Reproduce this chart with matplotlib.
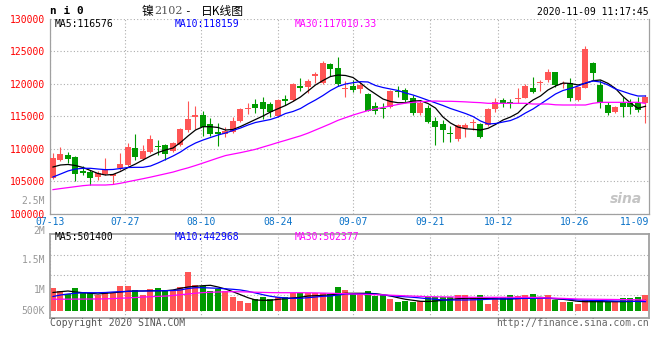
import numpy as np
import matplotlib
matplotlib.use('Agg')
import matplotlib.pyplot as plt
from matplotlib.transforms import ScaledTranslation

# daily candles, 07-13 .. 11-09
opens = [105490, 108308, 109077, 108723, 106615, 106460, 105740, 106150, 105850, 107030,
         107540, 110200, 108420, 109590, 110510, 110620, 109690, 110620, 112920, 114880,
         115230, 113850, 112660, 112310, 112570, 114350, 116200, 116920, 117280, 116880,
         115080, 117690, 117540, 119740, 119590, 121230, 120100, 123080, 122510, 119180,
         119740, 119230, 118460, 116620, 116350, 116510, 118970, 119080, 117800, 115490,
         116260, 114310, 113850, 112510, 111540, 113280, 113950, 113800, 113690, 116100,
         117540, 117280, 117640, 117900, 119430, 120100, 120620, 121800, 119950, 120100,
         117540, 119430, 123280, 119850, 116770, 115740, 117030, 117120, 117030, 117030]
highs = [109340, 110262, 109490, 108923, 107430, 106770, 106660, 108660, 106200, 109430,
         110970, 112310, 110570, 112110, 111380, 110770, 111120, 113230, 117430, 116660,
         115900, 114720, 113950, 113340, 114970, 116260, 117030, 117650, 117950, 117280,
         117650, 118310, 120200, 120970, 120720, 121800, 123590, 123280, 124200, 120460,
         120620, 120260, 118570, 117280, 117030, 119080, 119690, 119340, 118310, 117540,
         116770, 114880, 114460, 113540, 113850, 114050, 114570, 113950, 116260, 117800,
         117800, 117650, 119340, 119950, 121130, 120620, 122310, 121900, 120510, 120870,
         119590, 125850, 123430, 120620, 117280, 116620, 117950, 117690, 118050, 118310]
lows = [105340, 108200, 107800, 105120, 106000, 104460, 105230, 106000, 104620, 106770,
        107380, 108310, 108310, 109430, 109080, 108310, 109590, 110460, 112660, 113030,
        112000, 112000, 110460, 111890, 112420, 114200, 115380, 115580, 114620, 114880,
        114970, 116770, 117430, 118970, 118660, 120100, 120000, 121230, 119740, 117950,
        118820, 118660, 115850, 115380, 114820, 116260, 118050, 117280, 115230, 115230,
        113950, 110620, 111120, 111120, 111280, 111800, 112870, 111640, 113540, 115740,
        116510, 116260, 117130, 117800, 118560, 118970, 120360, 119590, 119330, 117430,
        117430, 119340, 120620, 116260, 115230, 115590, 114880, 115380, 115740, 114050]
closes = [108570, 109231, 108462, 106154, 106260, 105590, 106260, 106920, 106100, 107690,
          110260, 108820, 109740, 111540, 110350, 109180, 110870, 113080, 114620, 115230,
          113430, 112260, 112260, 112816, 114310, 116150, 116350, 116350, 116150, 115650,
          117540, 117430, 119950, 119430, 120510, 121490, 123280, 122260, 120050, 119340,
          119080, 119850, 115890, 115890, 116200, 118920, 118720, 117540, 115490, 117030,
          114200, 113430, 112920, 112310, 113690, 113690, 114200, 111800, 116100, 117280,
          117030, 117130, 117900, 119690, 118760, 120360, 121800, 119850, 120200, 117800,
          119490, 125380, 121740, 117030, 115590, 116510, 116410, 116510, 116000, 118050]

ma5 = [107230, 107540, 107620, 107460, 107150, 106690, 106230, 106000, 106080, 106540,
       107150, 107690, 108310, 108920, 109460, 109850, 110150, 111000, 112000, 112920,
       113430, 113430, 113310, 112920, 113000, 113460, 114000, 114540, 115080, 115690,
       116200, 116690, 117310, 118000, 118920, 119850, 120540, 121150, 121380, 121310,
       121000, 120150, 119230, 118460, 117690, 117310, 117120, 117120, 117380, 117430,
       117000, 116300, 114920, 114000, 113380, 113120, 113030, 112920, 113180, 113770,
       114460, 114920, 115540, 116690, 117540, 118150, 119080, 119690, 120150, 120080,
       119850, 120100, 120510, 120620, 120100, 119310, 118080, 117080, 116260, 116576]
ma10 = [105690, 106150, 106620, 106920, 107030, 107030, 106920, 106820, 106850, 107000,
        107150, 107180, 107180, 107380, 107850, 108380, 108920, 109540, 110310, 110920,
        111380, 111770, 112150, 112460, 112850, 113230, 113690, 114080, 114310, 114540,
        114920, 115460, 115770, 116230, 116920, 117540, 118230, 119000, 119620, 120000,
        120200, 120360, 120310, 119770, 119460, 119230, 119000, 118620, 118310, 117920,
        117500, 117100, 116690, 116230, 115850, 115460, 115000, 114310, 113850, 113920,
        114150, 114380, 114850, 115540, 116150, 116920, 117690, 118460, 119000, 119310,
        119690, 120150, 120460, 120310, 119850, 119230, 118850, 118460, 118150, 118159]
ma30 = [103750, 103910, 104060, 104210, 104360, 104460, 104460, 104460, 104540, 104730,
        104970, 105200, 105430, 105670, 105930, 106190, 106450, 106790, 107100, 107460,
        107840, 108230, 108620, 108990, 109220, 109440, 109690, 109950, 110300, 110640,
        111000, 111330, 111680, 112020, 112440, 112920, 113400, 113890, 114410, 114820,
        115220, 115570, 115910, 116180, 116400, 116620, 116850, 117060, 117170, 117280,
        117330, 117380, 117340, 117340, 117300, 117250, 117180, 117130, 117030, 117030,
        117030, 117030, 117030, 117030, 116920, 116920, 116920, 116800, 116770, 116770,
        116770, 116770, 117030, 117180, 117180, 117180, 117180, 117180, 117180, 117010]

volumes = [1129000, 982000, 819000, 1129000, 900000, 851000, 770000, 933000, 851000, 1227000,
           1227000, 1015000, 770000, 1064000, 1129000, 1015000, 949000, 1178000, 1913000, 1260000,
           1211000, 982000, 1064000, 982000, 655000, 492000, 394000, 574000, 655000, 574000,
           688000, 688000, 884000, 884000, 884000, 884000, 884000, 819000, 1178000, 1015000,
           851000, 851000, 966000, 737000, 770000, 574000, 443000, 492000, 443000, 492000,
           655000, 655000, 655000, 655000, 770000, 770000, 655000, 770000, 328000, 655000,
           655000, 770000, 721000, 770000, 819000, 655000, 770000, 525000, 443000, 443000,
           328000, 525000, 525000, 525000, 443000, 443000, 606000, 606000, 655000, 770000]
vol_ma5 = [892000, 931000, 966000, 917000, 882000, 853000, 819000, 853000, 882000, 917000,
           951000, 966000, 966000, 980000, 980000, 980000, 1015000, 1098000, 1162000, 1196000,
           1226000, 1245000, 1162000, 1064000, 931000, 784000, 637000, 525000, 510000, 510000,
           559000, 588000, 623000, 657000, 721000, 735000, 755000, 770000, 819000, 853000,
           853000, 853000, 853000, 833000, 784000, 721000, 637000, 559000, 510000, 461000,
           451000, 475000, 510000, 549000, 588000, 608000, 608000, 608000, 598000, 588000,
           574000, 574000, 598000, 623000, 637000, 657000, 623000, 574000, 559000, 510000,
           461000, 441000, 441000, 441000, 441000, 441000, 441000, 451000, 466000, 501400]
vol_ma10 = [696000, 770000, 819000, 853000, 882000, 882000, 882000, 892000, 917000, 931000,
            951000, 966000, 966000, 966000, 975000, 980000, 990000, 1015000, 1088000, 1127000,
            1127000, 1113000, 1098000, 1074000, 1049000, 1015000, 951000, 868000, 784000, 706000,
            657000, 623000, 608000, 608000, 637000, 672000, 706000, 721000, 770000, 819000,
            819000, 819000, 819000, 819000, 770000, 735000, 706000, 681000, 657000, 623000,
            588000, 559000, 525000, 525000, 525000, 525000, 534000, 544000, 559000, 574000,
            578000, 588000, 593000, 603000, 608000, 608000, 608000, 598000, 574000, 549000,
            525000, 515000, 505000, 495000, 485000, 475000, 470000, 462000, 452000, 442968]
vol_ma30 = [559000, 564000, 564000, 569000, 569000, 574000, 574000, 583000, 593000, 613000,
            627000, 647000, 667000, 686000, 701000, 716000, 745000, 784000, 819000, 858000,
            887000, 902000, 917000, 926000, 931000, 926000, 917000, 907000, 897000, 887000,
            882000, 882000, 882000, 882000, 877000, 873000, 863000, 853000, 843000, 833000,
            819000, 809000, 794000, 784000, 775000, 760000, 745000, 730000, 716000, 701000,
            686000, 681000, 676000, 672000, 667000, 662000, 657000, 657000, 657000, 657000,
            657000, 657000, 657000, 657000, 652000, 642000, 627000, 613000, 603000, 588000,
            574000, 569000, 564000, 559000, 554000, 549000, 544000, 539000, 534000, 502377]

date_labels = ['07-13', '07-27', '08-10', '08-24', '09-07', '09-21', '10-12', '10-26']
date_pos = [-0.4, 9.6, 19.7, 30.0, 40.0, 50.3, 59.4, 69.6]
last_date = '11-09'
price_ticks = [100000, 105000, 110000, 115000, 120000, 125000, 130000]
vol_grid = [770000, 1750000, 2730000]
vol_labels = ['2M', '1.5M', '1M', '500K']
vol_label_pos = [3907000, 2471000, 1000000, 0]

RED = '#ff5555'
GREEN = '#009a00'
GRID = '#adadad'
FRAME = '#a0a0a0'
DATE_BLUE = '#0a72c8'
MONO = 'DejaVu Sans Mono'
CJK = ['Noto Sans CJK SC', 'DejaVu Sans']

x = np.arange(len(closes))
o = np.array(opens)
c = np.array(closes)
colors = np.where(c >= o, RED, GREEN)

fig = plt.figure(figsize=(6.6, 3.6), dpi=100)
ax = fig.add_axes([50 / 660, 1 - 214 / 360, 599 / 660, 195 / 360])
axv = fig.add_axes([50 / 660, 1 - 318.3 / 360, 599 / 660, 84 / 360])

# ---- price panel ----
ax.vlines(x, lows, highs, colors=colors, linewidth=0.8, zorder=2)
ax.bar(x, np.maximum(np.abs(c - o), 160), bottom=np.minimum(o, c), width=0.8,
       color=colors, linewidth=0, zorder=3)
ax.plot(x, ma5, color='black', lw=0.9, zorder=4)
ax.plot(x, ma10, color='#0000ff', lw=0.9, zorder=4)
ax.plot(x, ma30, color='#ff00ff', lw=0.9, zorder=4)

ax.set_xlim(-0.4, 79.47)
ax.set_ylim(100000, 130000)
ax.set_yticks(price_ticks)
ax.set_yticklabels([str(p) for p in price_ticks], color='red', family=MONO, fontsize=7)
off = ScaledTranslation(0, 2 / 100, fig.dpi_scale_trans)
for lab in ax.get_yticklabels():
    lab.set_transform(lab.get_transform() + off)
ax.set_xticks(date_pos)
ax.set_xticklabels(date_labels, color=DATE_BLUE, family=MONO, fontsize=7)
ax.tick_params(axis='y', length=0, pad=3.5)
ax.tick_params(axis='x', length=0, pad=2)
ax.grid(True, color=GRID, linestyle=(0, (1, 2)), linewidth=0.8)
ax.set_axisbelow(True)
for s in ['left', 'right', 'bottom']:
    ax.spines[s].set_color(FRAME)
    ax.spines[s].set_linewidth(0.9)
ax.spines['top'].set_visible(False)

ax.text(1.0, -2.8 / 195, last_date, transform=ax.transAxes, ha='right', va='top',
        color=DATE_BLUE, family=MONO, fontsize=7)
ax.text(-0.008, 102046, '2.5M', transform=ax.get_yaxis_transform(), ha='right',
        va='center', color='#999999', family=MONO, fontsize=7)

ax.text(5 / 599, 0.974, 'MA5:116576', transform=ax.transAxes, va='center',
        color='black', family=MONO, fontsize=7)
ax.text(124.5 / 599, 0.974, 'MA10:118159', transform=ax.transAxes, va='center',
        color='#0000ff', family=MONO, fontsize=7)
ax.text(245 / 599, 0.974, 'MA30:117010.33', transform=ax.transAxes, va='center',
        color='#ff00ff', family=MONO, fontsize=7)

ax.text(0.962, 0.075, 'sina', transform=ax.transAxes, ha='center', va='center',
        color='#c4c4c4', fontsize=10, fontstyle='italic', fontweight='bold')

# ---- volume panel ----
axv.bar(x, volumes, width=0.8, color=colors, linewidth=0, zorder=2)
axv.plot(x, vol_ma5, color='black', lw=0.9, zorder=3)
axv.plot(x, vol_ma10, color='#0000ff', lw=0.9, zorder=3)
axv.plot(x, vol_ma30, color='#ff00ff', lw=0.9, zorder=3)
axv.set_xlim(-0.4, 79.47)
axv.set_ylim(-372600, 3745000)
axv.set_xticks(date_pos)
axv.set_yticks(vol_grid)
axv.set_xticklabels([])
axv.set_yticklabels([])
axv.tick_params(length=0)
axv.grid(True, color=GRID, linestyle=(0, (1, 2)), linewidth=0.8)
axv.set_axisbelow(True)
for s in axv.spines.values():
    s.set_color(FRAME)
    s.set_linewidth(1.3)

for lab, v in zip(vol_labels, vol_label_pos):
    axv.text(-0.008, v, lab, transform=axv.get_yaxis_transform(), ha='right',
             va='center', color='#999999', family=MONO, fontsize=7, clip_on=False)

axv.text(5 / 599, 0.962, 'MA5:501400', transform=axv.transAxes, va='center',
         color='black', family=MONO, fontsize=7)
axv.text(125 / 599, 0.962, 'MA10:442968', transform=axv.transAxes, va='center',
         color='#0000ff', family=MONO, fontsize=7)
axv.text(245 / 599, 0.962, 'MA30:502377', transform=axv.transAxes, va='center',
         color='#ff00ff', family=MONO, fontsize=7)

# ---- header / footer ----
fig.text(50.5 / 660, 1 - 11.5 / 360, 'n i 0', ha='left', va='center', color='black',
         family=MONO, fontsize=8, fontweight='bold')
fig.text(141.5 / 660, 1 - 11 / 360, '镍', ha='left', va='center', family=CJK, fontsize=8.5)
fig.text(154.5 / 660, 1 - 11 / 360, '2102', ha='left', va='center', color='#555555',
         family='DejaVu Serif', fontsize=8)
fig.text(184 / 660, 1 - 11 / 360, '-', ha='left', va='center', family=MONO, fontsize=8)
fig.text(201 / 660, 1 - 11 / 360, '日K线图', ha='left', va='center', family=CJK, fontsize=8.5)
fig.text(649 / 660, 1 - 12 / 360, '2020-11-09 11:17:45', ha='right', va='center',
         color='black', family=MONO, fontsize=7)
fig.text(50 / 660, 1 - 323 / 360, 'Copyright 2020 SINA.COM', ha='left', va='center',
         color='#555555', family=MONO, fontsize=7)
fig.text(649 / 660, 1 - 323.3 / 360, 'http://finance.sina.com.cn', ha='right', va='center',
         color='#666666', family=MONO, fontsize=7)

fig.savefig('out.png', dpi=100, facecolor='white')
